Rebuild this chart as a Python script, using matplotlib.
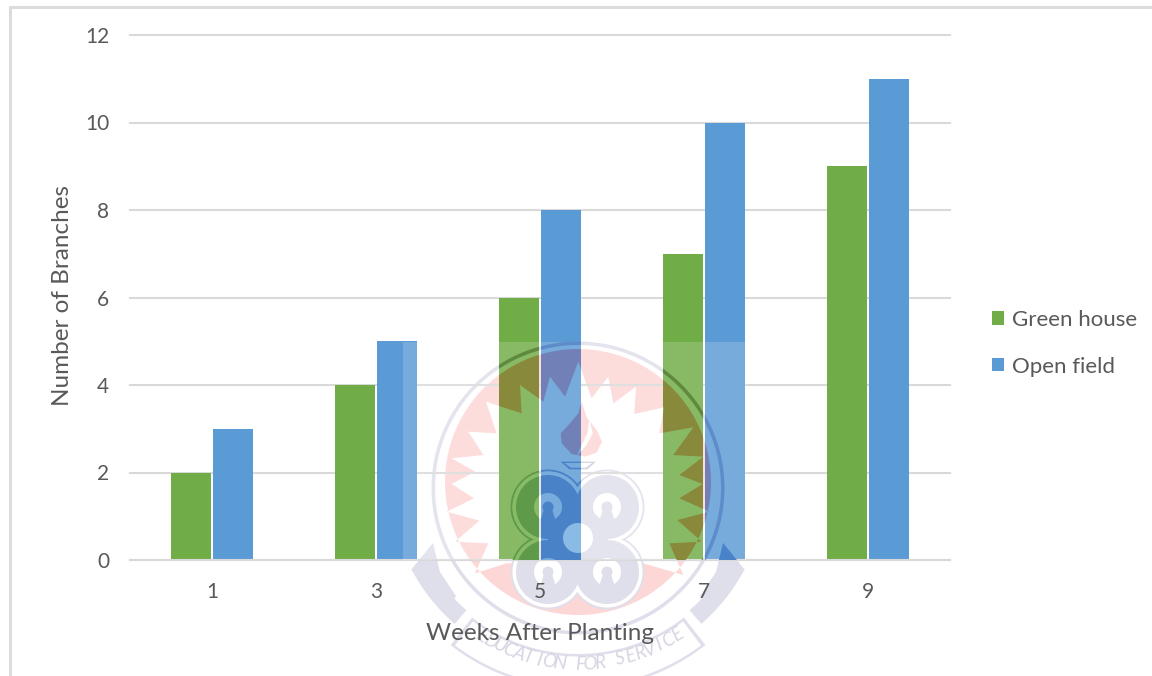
import numpy as np
import matplotlib
matplotlib.use("Agg")
import matplotlib.pyplot as plt
from matplotlib.lines import Line2D
from matplotlib.patches import PathPatch, Rectangle
from matplotlib.path import Path

# Chart data
weeks = ["1", "3", "5", "7", "9"]
green_house = [2, 4, 6, 7, 9]
open_field = [3, 5, 8, 10, 11]
y_ticks = [0, 2, 4, 6, 8, 10, 12]

GREEN = "#70AD47"
BLUE = "#5B9BD5"
GRID = "#D9D9D9"
TEXT = "#595959"
W, H = 1152, 676

plt.rcParams["font.family"] = ["Lato", "DejaVu Sans"]
fig = plt.figure(figsize=(W / 100, H / 100), dpi=100, facecolor="white")

# Three stacked layers: seal backing, the chart itself, seal tint on the bars
back = fig.add_axes([0, 0, 1, 1], zorder=0)
ax = fig.add_axes([130 / W, 1 - 560 / H, 820 / W, 525 / H], zorder=1)
top = fig.add_axes([0, 0, 1, 1], zorder=2)
for a in (back, top):
    a.set_xlim(0, W)
    a.set_ylim(H, 0)
    a.axis("off")
    a.patch.set_alpha(0)
ax.patch.set_alpha(0)

# Grouped bars
x = np.arange(len(weeks))
bar_w = 40 / 164
offset = 21 / 164
bars_g = ax.bar(x - offset, green_house, bar_w, color=GREEN, label="Green house", zorder=2)
bars_b = ax.bar(x + offset, open_field, bar_w, color=BLUE, label="Open field", zorder=2)

ax.set_xlim(-0.5, len(weeks) - 0.5)
ax.set_ylim(0, 12)
ax.set_yticks(y_ticks)
ax.set_xticks(x, weeks)
ax.grid(axis="y", color=GRID, lw=1.5, zorder=1, clip_on=False)
ax.set_axisbelow(True)
for s in ("top", "left", "right"):
    ax.spines[s].set_visible(False)
ax.spines["bottom"].set_color(GRID)
ax.spines["bottom"].set_linewidth(1.5)
ax.tick_params(axis="both", length=0, labelsize=15, labelcolor=TEXT)
ax.tick_params(axis="y", pad=15)
ax.tick_params(axis="x", pad=16)
ax.set_xlabel("Weeks After Planting", fontsize=17.5, color=TEXT, labelpad=15)
ax.set_ylabel("Number of Branches", fontsize=17.5, color=TEXT)
ax.yaxis.set_label_coords((73 - 130) / 820, 0.504)

ax.legend(
    frameon=False, loc="center left", bbox_to_anchor=(1.051, 0.413),
    fontsize=16, labelcolor=TEXT, handlelength=0.55, handleheight=0.55,
    handletextpad=0.36, labelspacing=1.2, borderpad=0, borderaxespad=0,
)

# Thin frame along the top and left of the figure
fig.add_artist(Line2D([9.5 / W, 9.5 / W, 1], [0, 1 - 6.5 / H, 1 - 6.5 / H],
                      color="#DCDCDC", lw=2.2, transform=fig.transFigure))

# University seal laid over the chart
CX, CY = 578, 482
BASE_PINK, PINK_G, PINK_B = "#FDD6D6", "#88893A", "#7280B8"
LAV, LAV_G, LAV_B = "#DFDFEB", "#5F9A4A", "#4A82C8"
HAZE_G, HAZE_B = "#88BB66", "#77ACDC"


def poly(pts):
    pts = np.asarray(pts, float)
    return np.vstack([pts, pts[0]])


def circle_pts(cx, cy, r, n=160):
    t = np.linspace(0, 2 * np.pi, n, endpoint=False)
    return np.column_stack([cx + r * np.cos(t), cy + r * np.sin(t)])


def closed_path(pts):
    return Path(poly(pts), closed=True)


def hole_path(outer, inner):
    return Path.make_compound_path(closed_path(outer), closed_path(inner[::-1]))


def signed_area(p):
    a, b = p[:, 0], p[:, 1]
    return 0.5 * np.sum(a * np.roll(b, -1) - b * np.roll(a, -1))


def ring(cx, cy, r0, r1):
    return hole_path(circle_pts(cx, cy, r1), circle_pts(cx, cy, r0))


def sector(r0, r1, a0, a1, n=50):
    t = np.radians(np.linspace(a0, a1, n))
    outer = np.column_stack([CX + r1 * np.sin(t), CY + r1 * np.cos(t)])
    inner = np.column_stack([CX + r0 * np.sin(t), CY + r0 * np.cos(t)])
    return np.vstack([outer, inner[::-1]])


def z(pts):
    """Seal outline points, given on a 3x grid anchored at the seal's corner."""
    pts = np.asarray(pts, float)
    return np.column_stack([400 + pts[:, 0] / 3, 330 + pts[:, 1] / 3])


def layer(path, base, on_green, on_blue):
    back.add_patch(PathPatch(path, fc=base, ec="none"))
    for bars, col in ((bars_g, on_green), (bars_b, on_blue)):
        for bar in bars:
            p = PathPatch(path, fc=col, ec="none")
            top.add_patch(p)
            p.set_clip_path(bar)


# Faint white wash of the seal's own background
ax.add_patch(Rectangle((403, 342), 344, 334, fc="white", ec="none", alpha=0.17,
                       transform=top.transData, zorder=3))

# Pink disc with a white sunburst cut out of it
star = z([
    (535, 95), (575, 205), (625, 140), (640, 220), (708, 170), (703, 252),
    (792, 232), (778, 310), (880, 292), (820, 375), (910, 380), (838, 435),
    (908, 462), (838, 505), (928, 545), (832, 570), (905, 635), (808, 640),
    (850, 735), (730, 700), (320, 700), (225, 730), (265, 640), (165, 635),
    (238, 572), (140, 545), (222, 505), (155, 462), (225, 425), (155, 385),
    (250, 375), (205, 305), (290, 310), (258, 215), (365, 250), (360, 165),
    (430, 215), (450, 140), (495, 200),
])
disc = circle_pts(CX, CY, 133)
if signed_area(star) * signed_area(disc) < 0:
    star = star[::-1]
layer(hole_path(disc, star), BASE_PINK, PINK_G, PINK_B)

# Outer ring
layer(ring(CX, 488, 143, 146.5), LAV, "#5F8A3E", "#5E8CCB")

# Ribbon: two wings with pointed tips and the central scroll
wing_r = sector(170, 188, 41, 62)
wing_l = wing_r.copy()
wing_l[:, 0] = 2 * CX - wing_l[:, 0]
tip_r = np.array([(723, 543), (745, 570), (720, 584), (706, 606), (700, 596), (716, 572)], float)
tip_l = tip_r.copy()
tip_l[:, 0] = 2 * CX - tip_l[:, 0]
for shape in (wing_r, wing_l, tip_r, tip_l):
    layer(closed_path(shape), LAV, LAV_G, LAV_B)
layer(hole_path(sector(172, 207, -38, 38), sector(174.5, 204.5, -37, 37)), LAV, LAV_G, LAV_B)

# Torch flame and cup
flame = z([(545, 215), (560, 262), (590, 300), (606, 335), (590, 368), (555, 380),
           (515, 372), (485, 340), (482, 310), (510, 280), (535, 250)])
layer(closed_path(flame), BASE_PINK, PINK_G, PINK_B)
swirl = z([(568, 265), (578, 310), (560, 345), (530, 378), (545, 345), (562, 310)])
layer(closed_path(swirl), "white", HAZE_G, HAZE_B)
layer(hole_path(z([(482, 395), (588, 395), (562, 418), (508, 418)]),
                z([(494, 399), (576, 399), (558, 413), (512, 413)])),
      "#CFCFDF", LAV_G, LAV_B)

# Four interlocking lobes around a central disc
lobes = [(548, 507), (607, 507), (548, 572), (607, 572)]
for cx, cy in lobes:
    layer(ring(cx, cy, 35.5, 37.5), LAV, LAV_G, LAV_B)
for cx, cy in lobes:
    layer(closed_path(circle_pts(cx, cy, 35.5)), "white", HAZE_G, HAZE_B)
layer(closed_path(circle_pts(578, 539, 30)), LAV, LAV_G, LAV_B)
for cx, cy in lobes:
    layer(ring(cx, cy, 14, 32), LAV, LAV_G, LAV_B)
    layer(closed_path(circle_pts(cx, cy, 5.5)), LAV, LAV_G, LAV_B)
    stem = [(cx - 4, cy + 2), (cx + 4, cy + 2), (cx + 8, cy + 15), (cx - 8, cy + 15)]
    layer(closed_path(stem), LAV, LAV_G, LAV_B)
layer(closed_path(circle_pts(578, 538, 15)), "white", "#9CC77F", "#8ABBE4")

# Motto set along the scroll
motto = "EDUCATION FOR SERVICE"
angles = np.linspace(-32, 33, len(motto))
for ch, ang in zip(motto, angles):
    th = np.radians(ang)
    back.text(CX + 182 * np.sin(th), CY + 182 * np.cos(th), ch, rotation=ang,
              rotation_mode="anchor", ha="center", va="center", fontsize=13.5,
              color="#D6D6E4", style="italic")

fig.savefig("out.png", dpi=100, facecolor="white")
